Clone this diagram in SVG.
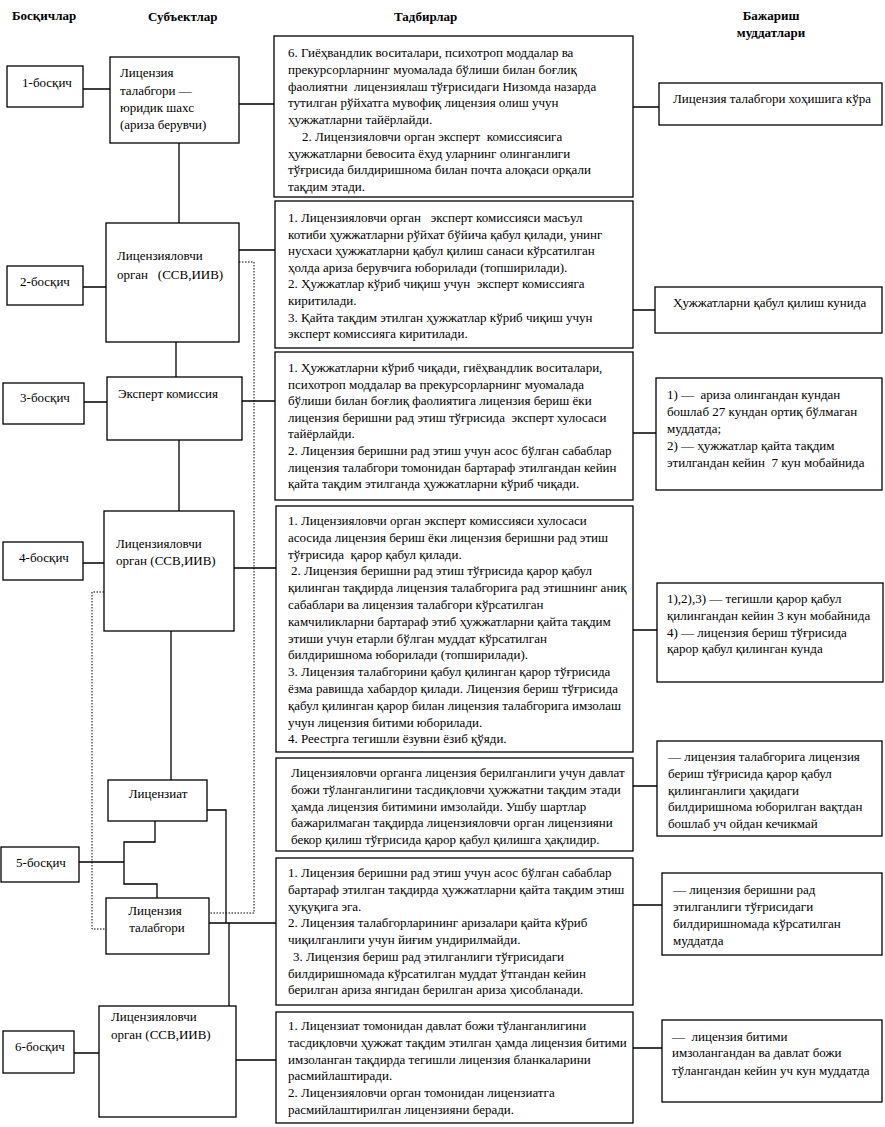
<svg xmlns="http://www.w3.org/2000/svg" width="885" height="1127" viewBox="0 0 885 1127">
<style>
.box{fill:#fff;stroke:#000;stroke-width:1.3}
.ln{fill:none;stroke:#000;stroke-width:1.3}
.dot{fill:none;stroke:#000;stroke-width:1;stroke-dasharray:1.5 1.5}
text{font-family:"Liberation Serif","Times New Roman",serif;font-size:13px;fill:#000;white-space:pre}
.h{font-weight:bold}
.c{text-anchor:middle}
</style>
<rect width="885" height="1127" fill="#fff"/>
<g id="headers">
<text class="h" x="12" y="20">Босқичлар</text>
<text class="h" x="148" y="21">Субъектлар</text>
<text class="h" x="394" y="21">Тадбирлар</text>
<text class="h c" x="771" y="20">Бажариш</text>
<text class="h c" x="771" y="37">муддатлари</text>
</g>
<g id="connectors">
<path class="ln" d="M83,89H110M239,104H274M179,143V223M83,287H106M239,250H275M176,342V377M84,402H107M242,401H275M179,440V511M83,563H104M234,568H276M171,631V780M207,810H226V923M155,821V842H124V884H157V898M79,862H124M209,923H276M229,923V1006M74,1053H99M236,1060H276"/>
<path class="ln" d="M633,107H659M633,310H655M633,433H656M633,630H657M633,786H657M633,905H662M633,1048H662"/>
<path class="dot" d="M239,262H254V913H209M104,592H92V929H106"/>
</g>
<g id="step1"><rect class="box" x="7" y="66" width="76" height="41"/><text class="c" x="47" y="87">1-босқич</text></g>
<g id="step2"><rect class="box" x="7" y="266" width="76" height="39"/><text class="c" x="45" y="286">2-босқич</text></g>
<g id="step3"><rect class="box" x="3" y="383" width="81" height="41"/><text class="c" x="45" y="402">3-босқич</text></g>
<g id="step4"><rect class="box" x="3" y="542" width="80" height="38"/><text class="c" x="44" y="562">4-босқич</text></g>
<g id="step5"><rect class="box" x="1" y="847" width="78" height="35"/><text class="c" x="41" y="867">5-босқич</text></g>
<g id="step6"><rect class="box" x="3" y="1031" width="71" height="42"/><text class="c" x="40" y="1051">6-босқич</text></g>

<g id="subj1"><rect class="box" x="110" y="57" width="129" height="86"/>
<text x="120" y="77">Лицензия</text><text x="120" y="95">талабгори —</text><text x="120" y="112">юридик шахс</text><text x="120" y="129">(ариза берувчи)</text></g>
<g id="subj2"><rect class="box" x="106" y="223" width="133" height="119"/>
<text x="117" y="260">Лицензияловчи</text><text x="117" y="279">орган   (ССВ,ИИВ)</text></g>
<g id="subj3"><rect class="box" x="107" y="377" width="135" height="63"/>
<text x="118" y="398">Эксперт комиссия</text></g>
<g id="subj4"><rect class="box" x="104" y="511" width="130" height="120"/>
<text x="116" y="548">Лицензияловчи</text><text x="116" y="565">орган (ССВ,ИИВ)</text></g>
<g id="subj5a"><rect class="box" x="108" y="780" width="99" height="41"/>
<text class="c" x="158" y="798">Лицензиат</text></g>
<g id="subj5b"><rect class="box" x="106" y="898" width="103" height="56"/>
<text class="c" x="155" y="915">Лицензия</text><text class="c" x="157" y="932">талабгори</text></g>
<g id="subj6"><rect class="box" x="99" y="1006" width="137" height="111"/>
<text x="111" y="1021">Лицензияловчи</text><text x="111" y="1039">орган (ССВ,ИИВ)</text></g>

<g id="act1"><rect class="box" x="274" y="36" width="359" height="161"/>
<text x="288" y="57">6. Гиёҳвандлик воситалари, психотроп моддалар ва</text>
<text x="288" y="73.75">прекурсорларнинг муомалада бўлиши билан боғлиқ</text>
<text x="288" y="90.5">фаолиятни  лицензиялаш тўғрисидаги Низомда назарда</text>
<text x="288" y="107.25">тутилган рўйхатга мувофиқ лицензия олиш учун</text>
<text x="288" y="124">ҳужжатларни тайёрлайди.</text>
<text x="302" y="140.75">2. Лицензияловчи орган эксперт  комиссиясига</text>
<text x="288" y="157.5">ҳужжатларни бевосита ёхуд уларнинг олинганлиги</text>
<text x="288" y="174.25">тўғрисида билдиришнома билан почта алоқаси орқали</text>
<text x="288" y="191">тақдим этади.</text></g>

<g id="act2"><rect class="box" x="275" y="201" width="358" height="147"/>
<text x="288" y="222">1. Лицензияловчи орган   эксперт комиссияси масъул</text>
<text x="288" y="238.6">котиби ҳужжатларни рўйхат бўйича қабул қилади, унинг</text>
<text x="288" y="255.2">нусхаси ҳужжатларни қабул қилиш санаси кўрсатилган</text>
<text x="288" y="271.8">ҳолда ариза берувчига юборилади (топширилади).</text>
<text x="288" y="288.4">2. Ҳужжатлар кўриб чиқиш учун  эксперт комиссияга</text>
<text x="288" y="305">киритилади.</text>
<text x="288" y="321.6">3. Қайта тақдим этилган ҳужжатлар кўриб чиқиш учун</text>
<text x="288" y="338.2">эксперт комиссияга киритилади.</text></g>

<g id="act3"><rect class="box" x="275" y="352" width="358" height="148"/>
<text x="288" y="372">1. Ҳужжатларни кўриб чиқади, гиёҳвандлик воситалари,</text>
<text x="288" y="388.6">психотроп моддалар ва прекурсорларнинг муомалада</text>
<text x="288" y="405.2">бўлиши билан боғлиқ фаолиятига лицензия бериш ёки</text>
<text x="288" y="421.8">лицензия беришни рад этиш тўғрисида  эксперт хулосаси</text>
<text x="288" y="438.4">тайёрлайди.</text>
<text x="288" y="455">2. Лицензия беришни рад этиш учун асос бўлган сабаблар</text>
<text x="288" y="471.6">лицензия талабгори томонидан бартараф этилгандан кейин</text>
<text x="288" y="488.2">қайта тақдим этилганда ҳужжатларни кўриб чиқади.</text></g>

<g id="act4"><rect class="box" x="276" y="506" width="357" height="246"/>
<text x="288" y="525">1. Лицензияловчи орган эксперт комиссияси хулосаси</text>
<text x="288" y="541.8">асосида лицензия бериш ёки лицензия беришни рад этиш</text>
<text x="288" y="558.6">тўғрисида  қарор қабул қилади.</text>
<text x="291" y="575.4">2. Лицензия беришни рад этиш тўғрисида қарор қабул</text>
<text x="288" y="592.2">қилинган тақдирда лицензия талабгорига рад этишнинг аниқ</text>
<text x="288" y="609">сабаблари ва лицензия талабгори кўрсатилган</text>
<text x="288" y="625.8">камчиликларни бартараф этиб ҳужжатларни қайта тақдим</text>
<text x="288" y="642.6">этиши учун етарли бўлган муддат кўрсатилган</text>
<text x="288" y="659.4">билдиришнома юборилади (топширилади).</text>
<text x="288" y="676.2">3. Лицензия талабгорини қабул қилинган қарор тўғрисида</text>
<text x="288" y="693">ёзма равишда хабардор қилади. Лицензия бериш тўғрисида</text>
<text x="288" y="709.8">қабул қилинган қарор билан лицензия талабгорига имзолаш</text>
<text x="288" y="726.6">учун лицензия битими юборилади.</text>
<text x="288" y="743.4">4. Реестрга тегишли ёзувни ёзиб қўяди.</text></g>

<g id="act5"><rect class="box" x="276" y="758" width="357" height="93"/>
<text x="291" y="777">Лицензияловчи органга лицензия берилганлиги учун давлат</text>
<text x="291" y="793.75">божи тўланганлигини тасдиқловчи ҳужжатни тақдим этади</text>
<text x="291" y="810.5">ҳамда лицензия битимини имзолайди. Ушбу шартлар</text>
<text x="291" y="827.25">бажарилмаган тақдирда лицензияловчи орган лицензияни</text>
<text x="291" y="844">бекор қилиш тўғрисида қарор қабул қилишга ҳақлидир.</text></g>

<g id="act6"><rect class="box" x="276" y="858" width="357" height="147"/>
<text x="288" y="877">1. Лицензия беришни рад этиш учун асос бўлган сабаблар</text>
<text x="288" y="893.75">бартараф этилган тақдирда ҳужжатларни қайта тақдим этиш</text>
<text x="288" y="910.5">ҳуқуқига эга.</text>
<text x="288" y="927.25">2. Лицензия талабгорларининг аризалари қайта кўриб</text>
<text x="288" y="944">чиқилганлиги учун йиғим ундирилмайди.</text>
<text x="293" y="960.75">3. Лицензия бериш рад этилганлиги тўғрисидаги</text>
<text x="288" y="977.5">билдиришномада кўрсатилган муддат ўтгандан кейин</text>
<text x="288" y="994.25">берилган ариза янгидан берилган ариза ҳисобланади.</text></g>

<g id="act7"><rect class="box" x="276" y="1012" width="357" height="111"/>
<text x="288" y="1030">1. Лицензиат томонидан давлат божи тўланганлигини</text>
<text x="288" y="1046.75">тасдиқловчи ҳужжат тақдим этилган ҳамда лицензия битими</text>
<text x="288" y="1063.5">имзоланган тақдирда тегишли лицензия бланкаларини</text>
<text x="288" y="1080.25">расмийлаштиради.</text>
<text x="288" y="1097">2. Лицензияловчи орган томонидан лицензиатга</text>
<text x="288" y="1113.75">расмийлаштирилган лицензияни беради.</text></g>

<g id="term1"><rect class="box" x="659" y="83" width="223" height="42"/>
<text x="673" y="103">Лицензия талабгори хоҳишига кўра</text></g>
<g id="term2"><rect class="box" x="655" y="287" width="227" height="46"/>
<text x="673" y="307">Ҳужжатларни қабул қилиш кунида</text></g>
<g id="term3"><rect class="box" x="656" y="378" width="226" height="112"/>
<text x="667" y="399">1) —  ариза олингандан кундан</text>
<text x="667" y="416">бошлаб 27 кундан ортиқ бўлмаган</text>
<text x="667" y="433">муддатда;</text>
<text x="667" y="450">2) — ҳужжатлар қайта тақдим</text>
<text x="667" y="467">этилгандан кейин  7 кун мобайнида</text></g>
<g id="term4"><rect class="box" x="657" y="583" width="226" height="99"/>
<text x="667" y="603">1),2),3) — тегишли қарор қабул</text>
<text x="667" y="620">қилингандан кейин 3 кун мобайнида</text>
<text x="667" y="637">4) — лицензия бериш тўғрисида</text>
<text x="667" y="653">қарор қабул қилинган кунда</text></g>
<g id="term5"><rect class="box" x="657" y="741" width="225" height="95"/>
<text x="668" y="761">— лицензия талабгорига лицензия</text>
<text x="668" y="778">бериш тўғрисида қарор қабул</text>
<text x="668" y="795">қилинганлиги ҳақидаги</text>
<text x="668" y="811">билдиришнома юборилган вақтдан</text>
<text x="668" y="828">бошлаб уч ойдан кечикмай</text></g>
<g id="term6"><rect class="box" x="662" y="873" width="220" height="82"/>
<text x="673" y="894">— лицензия беришни рад</text>
<text x="673" y="911">этилганлиги тўғрисидаги</text>
<text x="673" y="928">билдиришномада кўрсатилган</text>
<text x="673" y="945">муддатда</text></g>
<g id="term7"><rect class="box" x="662" y="1020" width="220" height="82"/>
<text x="672" y="1041">—  лицензия битими</text>
<text x="672" y="1057">имзолангандан ва давлат божи</text>
<text x="672" y="1075">тўлангандан кейин уч кун муддатда</text></g>
</svg>
